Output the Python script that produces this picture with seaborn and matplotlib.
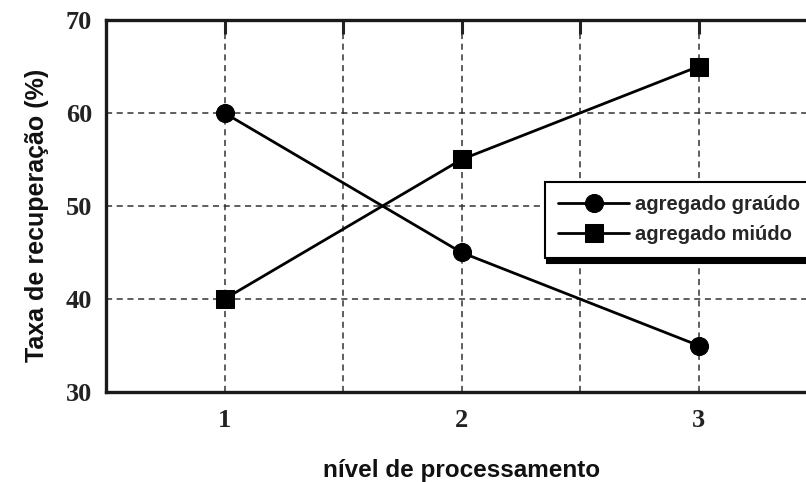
import matplotlib
matplotlib.use("Agg")
import matplotlib.pyplot as plt
from matplotlib.ticker import MultipleLocator, FixedLocator
import pandas as pd
import seaborn as sns

# Recovery rate by processing level for the two aggregate fractions
niveis = [1, 2, 3]
graudo = [60, 45, 35]
miudo = [40, 55, 65]
serie_nomes = ["agregado graúdo", "agregado miúdo"]
x_rotulo = "nível de processamento"
y_rotulo = "Taxa de recuperação (%)"

df = pd.DataFrame({
    "nivel": niveis * 2,
    "taxa": graudo + miudo,
    "serie": [serie_nomes[0]] * 3 + [serie_nomes[1]] * 3,
})

sns.set_style("white")
plt.rcParams["font.family"] = ["Liberation Sans", "DejaVu Sans"]

fig = plt.figure(figsize=(8.06, 4.82), dpi=100)
ax = fig.add_axes([106 / 806, 1 - 392 / 482, 711 / 806, 372 / 482])

sns.lineplot(
    data=df, x="nivel", y="taxa", hue="serie", style="serie",
    markers={serie_nomes[0]: "o", serie_nomes[1]: "s"},
    dashes=False, palette=["black", "black"], markersize=13,
    markeredgecolor="black", linewidth=2, ax=ax, legend=True,
)

ax.set_xlim(0.5, 3.5)
ax.set_ylim(30, 70)

# Ticks
ax.xaxis.set_major_locator(FixedLocator(niveis))
ax.xaxis.set_minor_locator(FixedLocator([1.5, 2.5]))
ax.yaxis.set_major_locator(MultipleLocator(10))
ax.yaxis.set_minor_locator(MultipleLocator(2))
ax.tick_params(axis="both", which="both", direction="in", color="#222222",
               top=True, right=False)
ax.tick_params(axis="x", which="both", length=10, width=2.2, pad=12)
ax.tick_params(axis="y", which="major", length=10, width=2.2, pad=10)
ax.tick_params(axis="y", which="minor", length=6, width=2.2)
for lab in ax.get_xticklabels() + ax.get_yticklabels():
    lab.set_fontfamily(["Liberation Serif", "DejaVu Serif"])
    lab.set_fontweight("bold")
    lab.set_fontsize(19)
    lab.set_color("#222222")

# Grid: dashed lines at major y and at every half step in x
for yv in [40, 50, 60]:
    ax.axhline(yv, color="#333333", lw=1.1, ls=(0, (4, 3)), zorder=0)
for xv in [1, 1.5, 2, 2.5, 3]:
    ax.axvline(xv, color="#333333", lw=1.1, ls=(0, (4, 3)), zorder=0)

for side, sp in ax.spines.items():
    sp.set_linewidth(2.4)
    sp.set_color("#1a1a1a")

ax.set_xlabel(x_rotulo, fontsize=17.5, fontweight="bold", labelpad=20, color="#111111")
ax.set_ylabel(y_rotulo, fontsize=18, fontweight="bold", labelpad=12, color="#111111")
ax.yaxis.label.set_y(0.476)

leg = ax.legend(
    loc="upper left", bbox_to_anchor=((545 - 106) / 711, (392 - 182) / 372),
    borderaxespad=0, frameon=True, fancybox=False,
    shadow={"color": "black", "alpha": 1, "ox": 1.5, "oy": -3.5},
    prop={"weight": "bold", "size": 14.5}, handlelength=3.5,
    borderpad=0.66, labelspacing=0.55, handletextpad=0.3,
)
leg.get_frame().set_edgecolor("black")
leg.get_frame().set_linewidth(1.5)

fig.savefig("out.png", dpi=100)
